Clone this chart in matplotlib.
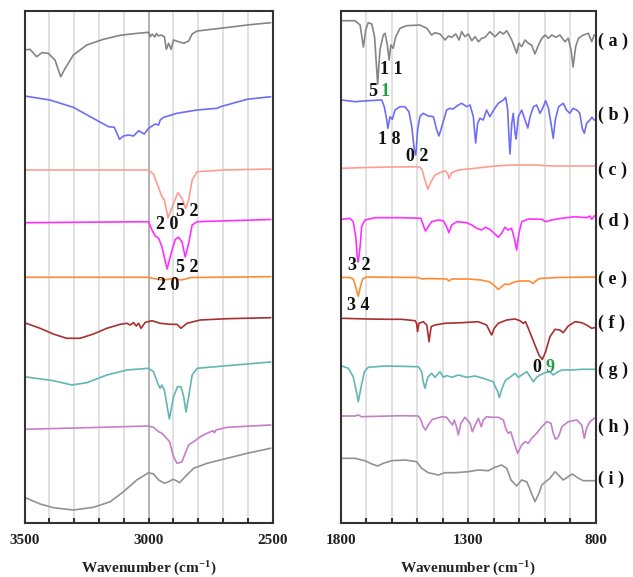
import matplotlib
matplotlib.use("Agg")
import matplotlib.pyplot as plt
import matplotlib.transforms as mtransforms

plt.rcParams['font.family'] = ['Liberation Serif', 'DejaVu Serif']
plt.rcParams['font.weight'] = 'bold'
plt.rcParams['mathtext.fontset'] = 'custom'
plt.rcParams['mathtext.rm'] = 'Liberation Serif:bold'
plt.rcParams['mathtext.bf'] = 'Liberation Serif:bold'
plt.rcParams['mathtext.it'] = 'Liberation Serif:bold'
plt.rcParams['mathtext.default'] = 'rm'

# ---------------- data: left panel (3500-2500 cm-1) ----------------
L_a_wn = [3500, 3478, 3451, 3430, 3404, 3377, 3354, 3336, 3303, 3249, 3182, 3114, 3060, 3000, 2993,
          2985, 2975, 2968, 2960, 2950, 2936, 2928, 2919, 2909, 2899, 2879, 2858, 2838, 2824, 2804,
          2710, 2602, 2508]
L_a_T = [472, 472.7, 465.3, 469.3, 468.7, 462, 445.3, 453.7, 467, 477, 482.7, 486.7, 488.3, 489.7, 485.3,
         488, 485, 488.5, 486, 487, 485.3, 472.7, 478.7, 472.7, 482, 480.3, 478.7, 481, 488, 491,
         493.7, 497, 499.3]

L_b_wn = [3500, 3398, 3303, 3235, 3161, 3138, 3128, 3117, 3101, 3081, 3060, 3040, 3017, 3000, 2973,
          2959, 2953, 2939, 2885, 2804, 2723, 2710, 2602, 2508]
L_b_T = [426, 422, 414.7, 405.3, 395.3, 394.7, 389.3, 382.7, 386, 387, 386, 391.3, 388, 393.7, 398,
         397, 402, 404.7, 408.7, 412, 413.7, 415.3, 422.7, 425.3]

L_c_wn = [3500, 3200, 3000, 2980, 2966, 2946, 2936, 2921, 2899, 2881, 2865, 2850, 2838, 2824, 2804,
          2700, 2508]
L_c_T = [352, 352, 352, 348, 338.7, 325.3, 322, 304, 318.7, 329.3, 323.7, 313.5, 322, 342, 350.3,
         352, 353]

L_d_wn = [3500, 3000, 2986, 2973, 2959, 2946, 2925, 2905, 2892, 2879, 2865, 2852, 2838, 2824, 2804, 2508]
L_d_T = [299.3, 300.3, 292, 286, 283.7, 275.3, 253, 272, 282.7, 284.7, 280.3, 265, 278.7, 297, 300.3, 302.5]

L_e_wn = [3500, 3000, 2980, 2940, 2915, 2895, 2870, 2850, 2830, 2508]
L_e_T = [244.7, 244.7, 243.5, 242, 243, 243.5, 242, 243, 244.5, 245.3]

L_f_wn = [3500, 3437, 3384, 3330, 3276, 3222, 3168, 3114, 3087, 3075, 3060, 3049, 3040, 3030, 3013,
          2986, 2953, 2913, 2885, 2869, 2845, 2791, 2683, 2508]
L_f_T = [199.3, 193.7, 188, 183.7, 183.7, 188, 193.7, 197.7, 198.7, 197, 199.3, 196, 198.7, 193.7, 199.7,
         201.3, 198.7, 197.7, 197.7, 193.7, 198.7, 202, 203.3, 204.3]

L_g_wn = [3500, 3384, 3309, 3249, 3168, 3087, 3000, 2980, 2963, 2953, 2946, 2936, 2916, 2899, 2883,
          2869, 2858, 2849, 2838, 2824, 2804, 2683, 2508]
L_g_T = [145.3, 141.3, 137, 139.3, 147, 152, 153.7, 150.3, 138.7, 133.7, 137, 132, 103, 125.3, 135.3,
         135.3, 125.3, 110, 125.3, 147, 153.7, 156.3, 160]

L_h_wn = [3500, 3250, 3000, 2980, 2959, 2946, 2933, 2915, 2899, 2885, 2865, 2852, 2838, 2818, 2791,
          2764, 2740, 2734, 2728, 2683, 2508]
L_h_T = [92.7, 94.3, 96, 94.7, 90.3, 88.7, 85.3, 80.3, 65.3, 58.7, 60.3, 68.7, 77, 80.3, 85.3,
         88.7, 91.3, 89.3, 92, 94.7, 97]

L_i_wn = [3500, 3437, 3384, 3303, 3222, 3154, 3101, 3047, 3000, 2980, 2959, 2936, 2919, 2901, 2885,
          2875, 2852, 2818, 2764, 2683, 2602, 2508]
L_i_T = [24.7, 18, 14.3, 12, 14.7, 20.3, 30.3, 42, 49.3, 48, 42, 38.7, 40.3, 42.7, 41,
         39.3, 45.3, 53.7, 58.7, 63.7, 68.7, 73.7]

# ---------------- data: right panel (1800-800 cm-1) ----------------
R_a_wn = [1797, 1745, 1725, 1712, 1703, 1693, 1679, 1668, 1656, 1647,
          1634, 1627, 1618, 1611, 1604, 1595, 1585, 1568, 1542, 1490,
          1463, 1444, 1431, 1411, 1391, 1378, 1365, 1349, 1336, 1326,
          1313, 1300, 1286, 1273, 1260, 1247, 1234, 1215, 1195, 1175,
          1162, 1149, 1129, 1119, 1110, 1101, 1090, 1077, 1064, 1051,
          1038, 1024, 1011, 998, 985, 972, 956, 940, 920, 907,
          896, 888, 878, 867, 848, 828, 815, 805]
R_a_T = [501.3, 501.3, 497, 475, 492, 499.3, 498, 485, 438, 472,
         487, 488.7, 477, 462, 477, 473.7, 485.3, 493.7, 496.3, 497,
         493.7, 487, 489.3, 488, 482, 486, 484.7, 488, 482, 490.3,
         485.3, 488, 481.3, 485.3, 480.3, 483.7, 484.7, 490.3, 485.3, 490.3,
         488, 491.3, 482, 475.3, 468.7, 478.7, 475.3, 482, 478.7, 477,
         468, 477, 483.7, 487, 483.7, 487, 484.7, 487, 480.3, 483.7,
         472, 455, 475.3, 483.7, 487, 488.7, 480.3, 487]

R_b_wn = [1797, 1745, 1693, 1640, 1630, 1620, 1616, 1607, 1598, 1588,
          1568, 1549, 1533, 1522, 1512, 1506, 1499, 1490, 1477, 1457,
          1437, 1424, 1415, 1404, 1385, 1372, 1360, 1339, 1326, 1306,
          1293, 1280, 1271, 1263, 1254, 1241, 1228, 1215, 1200, 1182,
          1162, 1153, 1145, 1140, 1136, 1129, 1123, 1116, 1112, 1103,
          1090, 1077, 1066, 1057, 1044, 1031, 1018, 1007, 996, 985,
          975, 966, 958, 945, 927, 914, 901, 888, 874, 862,
          852, 844, 835, 822, 814, 805]
R_b_T = [422, 420.3, 421.3, 422, 415.3, 402, 393.7, 405.3, 402.7, 412,
         415.3, 415.3, 410.3, 395.3, 372, 367, 392, 405.3, 408.7, 406,
         405.3, 392, 386, 395.3, 412, 413.7, 413, 417, 418.7, 415.3,
         417, 405.3, 379, 398.7, 403.7, 402, 412, 405.3, 412, 418.7,
         422, 424.7, 412, 385.3, 368, 398.7, 408.7, 388.7, 383, 405.3,
         412, 402, 394, 405.3, 415.3, 417, 408.7, 414, 421.3, 414,
         398.7, 383.7, 402, 415.3, 418.7, 412, 408.7, 413.7, 412, 409,
         393.7, 388.7, 398.7, 402, 404.7, 402]

R_c_wn = [1797, 1700, 1600, 1500, 1488, 1481, 1470, 1459, 1446, 1431, 1411, 1391, 1381, 1376, 1365,
          1339, 1273, 1195, 1129, 1038, 972, 900, 805]
R_c_T = [353.7, 354.5, 355, 355.3, 354.5, 352, 342, 332.7, 340.3, 347, 349.3, 351.3, 348.7, 343.7, 349.3,
         352, 353.7, 356, 357, 357, 356, 356, 356]

R_d_wn = [1797, 1765, 1752, 1742, 1736, 1732, 1725, 1719, 1706, 1666,
          1562, 1486, 1477, 1468, 1457, 1444, 1418, 1398, 1385, 1376,
          1365, 1345, 1306, 1286, 1267, 1247, 1232, 1215, 1198, 1182,
          1169, 1156, 1143, 1130, 1119, 1110, 1101, 1090, 1064, 1011,
          996, 972, 933, 880, 835, 822, 815, 805]
R_d_T = [302.7, 303.7, 300.3, 285.3, 265.3, 260, 275.3, 295.3, 302, 304.3,
         304.3, 303.7, 297, 291, 295.3, 300.3, 302, 301.3, 295.3, 289.3,
         297, 300.3, 299.3, 297, 293.7, 292, 294.7, 292.7, 288.7, 284.7,
         288.7, 294.7, 292, 293.7, 283.7, 272, 288.7, 300.3, 303, 302.7,
         300.3, 302, 303.7, 305.3, 304.3, 306, 302.7, 306]

R_e_wn = [1797, 1765, 1752, 1742, 1732, 1725, 1715, 1700, 1500, 1480, 1460, 1385, 1376, 1365, 1300,
          1250, 1215, 1195, 1182, 1170, 1155, 1140, 1120, 1100, 1060, 1045, 1035, 1020, 950, 805]
R_e_T = [244.5, 244.5, 243, 235, 225.5, 234, 243, 245, 244.5, 243, 243.5, 243, 241, 243, 243,
         242, 240, 236, 232.5, 235, 238, 237.5, 240, 241, 241, 238.5, 241, 243.5, 244.5, 245]

R_f_wn = [1797, 1693, 1614, 1562, 1509, 1503, 1499, 1494, 1477, 1463,
          1454, 1446, 1431, 1391, 1326, 1261, 1228, 1215, 1208, 1198,
          1182, 1149, 1116, 1097, 1084, 1075, 1064, 1051, 1038, 1022,
          1009, 996, 979, 959, 940, 927, 907, 880, 854, 835,
          815, 805]
R_f_T = [203.7, 203, 202.7, 202.7, 201.3, 198.7, 190.3, 198.7, 200.3, 197,
         180.3, 195.3, 197, 198.7, 199.3, 200.3, 197, 190.3, 187, 193.7,
         198.7, 202, 203, 201.3, 198.7, 200.3, 193.7, 185.3, 177, 167,
         162.5, 170.3, 185.3, 192.7, 192, 189.3, 196, 200.3, 199.3, 197,
         193.7, 194.3]

R_g_wn = [1797, 1771, 1752, 1738, 1732, 1721, 1708, 1693, 1627, 1496,
          1483, 1477, 1470, 1459, 1444, 1431, 1411, 1398, 1385, 1365,
          1339, 1306, 1273, 1241, 1221, 1202, 1191, 1184, 1178, 1169,
          1162, 1153, 1136, 1116, 1103, 1090, 1070, 1057, 1044, 1031,
          1018, 998, 979, 966, 953, 933, 894, 854, 805]
R_g_T = [156, 153.7, 145.3, 128.7, 120.3, 135.3, 150.3, 154.7, 156, 155.3,
         150.3, 140.3, 133.7, 144.7, 148.7, 144.7, 150.3, 144.7, 146.5, 144.7,
         147, 144.7, 146, 143.7, 142, 140.3, 133.7, 130.3, 124.5, 132,
         137, 142, 144.7, 148.7, 144.7, 147, 150.3, 145.3, 140.3, 144.7,
         147, 149.3, 150.3, 147, 149.3, 152, 152, 152.7, 152.7]

R_h_wn = [1797, 1745, 1732, 1720, 1562, 1496, 1486, 1477, 1468, 1457,
          1441, 1424, 1404, 1385, 1372, 1362, 1355, 1346, 1339, 1329,
          1313, 1293, 1284, 1273, 1260, 1249, 1241, 1228, 1208, 1182,
          1162, 1153, 1143, 1133, 1119, 1106, 1090, 1077, 1064, 1051,
          1031, 1011, 991, 975, 966, 957, 945, 932, 907, 874,
          854, 844, 835, 822, 805]
R_h_T = [106, 106, 107, 105.3, 106.3, 106, 102, 95.3, 92, 97,
         102.7, 103.7, 105.3, 104.7, 100.3, 97, 102, 95.3, 87, 98.7,
         104.7, 98.7, 90.3, 97, 103.7, 95.3, 102, 105.3, 104.7, 104.7,
         102, 93.7, 88.7, 90.3, 78.7, 68.7, 77, 80.3, 78.7, 83.7,
         88.7, 95.3, 100.3, 98.7, 88.7, 82.7, 85.3, 95.3, 100.3, 102,
         97, 83.7, 93.7, 100.3, 103.7]

R_i_wn = [1797, 1745, 1706, 1679, 1656, 1634, 1601, 1549, 1503, 1483,
          1457, 1418, 1391, 1352, 1300, 1260, 1221, 1195, 1169, 1149,
          1132, 1110, 1090, 1070, 1054, 1038, 1022, 1011, 996, 979,
          959, 946, 927, 907, 891, 867, 848, 828, 805]
R_i_T = [63.7, 63.7, 61.3, 58, 56, 58.7, 61.3, 62, 60.3, 53.7,
         49.3, 47, 49.3, 49.3, 50.3, 52, 51.3, 54.7, 57, 53.7,
         42, 36, 42, 40.3, 30.3, 20.3, 28.7, 37, 40.3, 43.7,
         50.3, 47, 42, 45.3, 48, 43.7, 41.3, 41.3, 41.3]

series_names = ['a', 'b', 'c', 'd', 'e', 'f', 'g', 'h', 'i']
series_colors = ['#858585', '#6e6ef5', '#ff9c92', '#ff30ff', '#ff8a35',
                 '#a83030', '#62b6b6', '#c47fc8', '#929292']

left_ticks = list(range(2500, 3501, 100))
left_ticklabels = {3500: '3500', 3000: '3000', 2500: '2500'}
right_ticks = list(range(800, 1801, 100))
right_ticklabels = {1800: '1800', 1300: '1300', 800: '800'}

left_data = [(L_a_wn, L_a_T), (L_b_wn, L_b_T), (L_c_wn, L_c_T), (L_d_wn, L_d_T), (L_e_wn, L_e_T),
             (L_f_wn, L_f_T), (L_g_wn, L_g_T), (L_h_wn, L_h_T), (L_i_wn, L_i_T)]
right_data = [(R_a_wn, R_a_T), (R_b_wn, R_b_T), (R_c_wn, R_c_T), (R_d_wn, R_d_T), (R_e_wn, R_e_T),
              (R_f_wn, R_f_T), (R_g_wn, R_g_T), (R_h_wn, R_h_T), (R_i_wn, R_i_T)]

# curve label y positions (same units as T)
label_y = [481, 407, 352, 301, 243, 199, 152, 95, 43]

# peak annotations: (panel, text, wavenumber, T, color)
BLACK = '#111111'
GREEN = '#1f9e4a'
annotations = [
    ('L', '2 0', 2925, 297.5, BLACK),
    ('L', '5 2', 2845, 311, BLACK),
    ('L', '5 2', 2843, 255, BLACK),
    ('L', '2 0', 2922, 237, BLACK),
    ('R', '1 1', 1602, 452, BLACK),
    ('R', '5', 1676, 430.5, BLACK),
    ('R', '1', 1627, 430.5, GREEN),
    ('R', '1 8', 1611, 382, BLACK),
    ('R', '0 2', 1501, 365.5, BLACK),
    ('R', '3 2', 1730, 257, BLACK),
    ('R', '3 4', 1731, 216.5, BLACK),
    ('R', '0', 1030, 154.7, BLACK),
    ('R', '9', 979, 154.7, GREEN),
]

W, H = 633, 577
fig = plt.figure(figsize=(W / 100, H / 100), dpi=100)
axL = fig.add_axes([24.5 / W, (H - 522.5) / H, 248 / W, 511.5 / H])
axR = fig.add_axes([341 / W, (H - 522.5) / H, 254.5 / W, 511.5 / H])

FRAME = '#333333'
for ax, data, xlim, ticks, tlabels in [
        (axL, left_data, (3500, 2500), left_ticks, left_ticklabels),
        (axR, right_data, (1800, 800), right_ticks, right_ticklabels)]:
    for (wn, T), col in zip(data, series_colors):
        ax.plot(wn, T, color=col, lw=1.2, zorder=3, solid_joinstyle='round')
    ax.set_xlim(*xlim)
    ax.set_ylim(-0.5, 511)
    ax.set_yticks([])
    ax.set_xticks(ticks)
    ax.set_xticklabels([tlabels.get(t, '') for t in ticks])
    for t in ticks:
        ax.axvline(t, color='#d8d8d8', lw=1.1, zorder=1)
    ax.tick_params(axis='x', direction='in', length=3.5, width=1.5, color=FRAME,
                   pad=8.5, labelsize=11, labelcolor='#222222')
    for sp in ax.spines.values():
        sp.set_color(FRAME)
        sp.set_linewidth(1.5)
        sp.set_zorder(5)
    ax.set_xlabel(r'Wavenumber (cm$^{-1}$)', fontsize=11, fontweight='bold',
                  labelpad=9, color='#222222')

axL.axvline(3000, color='#a8a8a8', lw=1.1, zorder=1.5)

for panel, txt, x, y, col in annotations:
    ax = axL if panel == 'L' else axR
    ax.text(x, y, txt, fontsize=13, fontweight='bold', color=col,
            ha='center', va='center', zorder=6)

trans = mtransforms.blended_transform_factory(axR.transAxes, axR.transData)
for name, y in zip(series_names, label_y):
    axR.text(1.0 + 3 / 254.5, y, '( %s )' % name, transform=trans, fontsize=13,
             fontweight='bold', color='#111111', ha='left', va='center', clip_on=False)

fig.savefig('out.png', dpi=100)
